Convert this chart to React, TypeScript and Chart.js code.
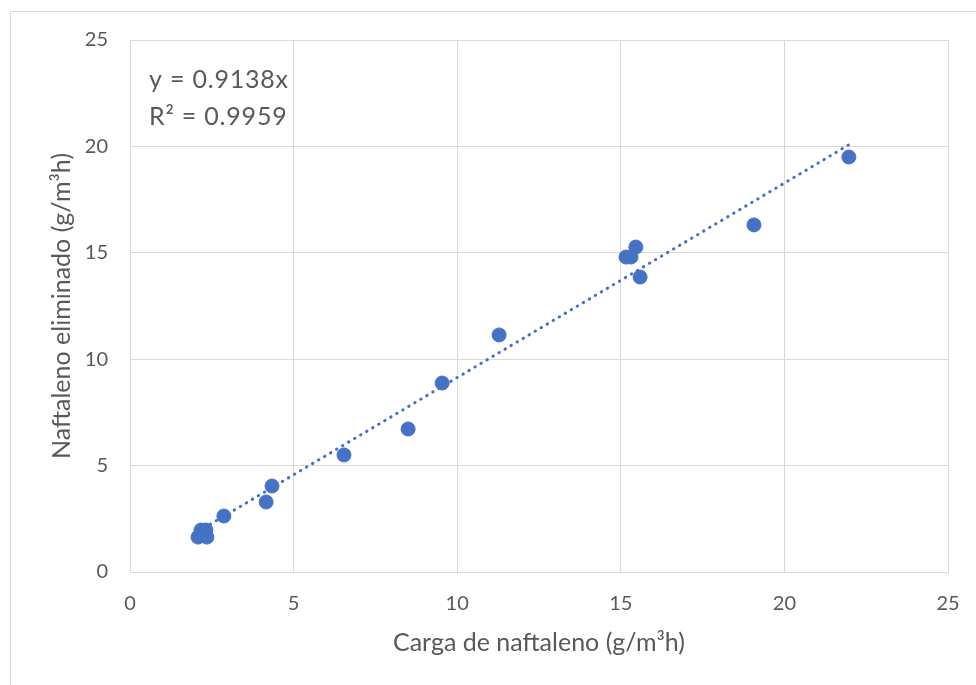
import React, { useEffect, useRef } from "react";
import { Chart, registerables } from "chart.js";

Chart.register(...registerables);

const cargaX = [2.08, 2.35, 2.17, 2.32, 2.87, 4.16, 4.34, 6.54, 8.5, 9.54, 11.28, 15.16, 15.31, 15.46, 15.59, 19.07, 21.97];
const eliminadoY = [1.64, 1.64, 1.97, 1.97, 2.63, 3.29, 4.04, 5.5, 6.72, 8.88, 11.14, 14.8, 14.8, 15.27, 13.86, 16.31, 19.5];
const slope = 0.9138;
const equationLines = ["y = 0.9138x", "R² = 0.9959"];
const xTitle = "Carga de naftaleno (g/m³h)";
const yTitle = "Naftaleno eliminado (g/m³h)";

const FONT = "Lato, 'Open Sans', sans-serif";
const TEXT = "#595959";
const GRID = "#d9d9d9";
const BLUE = "#4472C4";

export default function App() {
  const ref = useRef<HTMLCanvasElement | null>(null);

  useEffect(() => {
    if (!ref.current) return;
    const points = cargaX.map((x, i) => ({ x, y: eliminadoY[i] }));
    const xmin = Math.min(...cargaX);
    const xmax = Math.max(...cargaX);
    const trend = [
      { x: xmin, y: slope * xmin },
      { x: xmax, y: slope * xmax },
    ];

    const textPlugin = {
      id: "eqText",
      afterDraw(chart: any) {
        const ctx = chart.ctx;
        ctx.save();
        ctx.fillStyle = TEXT;
        ctx.font = `25px ${FONT}`;
        (ctx as any).letterSpacing = "0.8px";
        ctx.textBaseline = "alphabetic";
        ctx.textAlign = "left";
        ctx.fillText(equationLines[0], 149, 88);
        ctx.fillText(equationLines[1], 149, 125);
        ctx.restore();
      },
    };

    const chart = new Chart(ref.current, {
      type: "scatter",
      data: {
        datasets: [
          {
            label: "data",
            data: points,
            backgroundColor: BLUE,
            borderColor: BLUE,
            pointRadius: 7,
            pointHoverRadius: 7,
            order: 2,
          },
          {
            label: "trend",
            type: "line",
            data: trend,
            borderColor: BLUE,
            borderWidth: 3,
            borderDash: [0.5, 6.5],
            borderCapStyle: "round",
            pointRadius: 0,
            fill: false,
            order: 1,
          } as any,
        ],
      },
      options: {
        animation: false,
        responsive: false,
        maintainAspectRatio: false,
        layout: { padding: { left: 40, top: 40, right: 28, bottom: 20 } },
        plugins: { legend: { display: false }, tooltip: { enabled: false } },
        scales: {
          x: {
            type: "linear",
            min: 0,
            max: 25,
            ticks: { stepSize: 5, color: TEXT, font: { family: FONT, size: 20 }, padding: 20 },
            grid: { color: GRID, lineWidth: 1, drawTicks: false },
            border: { color: GRID },
            title: { display: true, text: xTitle, color: TEXT, font: { family: FONT, size: 25 }, padding: { top: 7, bottom: 7 } },
            afterFit(scale: any) {
              scale.height = 685 - 572 - 20;
              scale.paddingLeft = 0;
              scale.paddingRight = 0;
            },
          },
          y: {
            type: "linear",
            min: 0,
            max: 25,
            ticks: { stepSize: 5, color: TEXT, font: { family: FONT, size: 20 }, padding: 22 },
            grid: { color: GRID, lineWidth: 1, drawTicks: false },
            border: { color: GRID },
            title: { display: true, text: yTitle, color: TEXT, font: { family: FONT, size: 25 }, padding: { top: 7, bottom: 7 } },
            afterFit(scale: any) {
              scale.width = 130 - 40;
              scale.paddingTop = 0;
              scale.paddingBottom = 0;
            },
          },
        },
      },
      plugins: [textPlugin],
    } as any);
    return () => chart.destroy();
  }, []);

  return (
    <div style={{ position: "absolute", left: 0, top: 0, width: 976, height: 685, overflow: "hidden", background: "#fff" }}>
      <div style={{ position: "absolute", left: 10, top: 11, width: 1000, height: 700, border: `1px solid ${GRID}` }} />
      <canvas ref={ref} width={976} height={685} style={{ position: "absolute", left: 0, top: 0, width: 976, height: 685 }} />
    </div>
  );
}
